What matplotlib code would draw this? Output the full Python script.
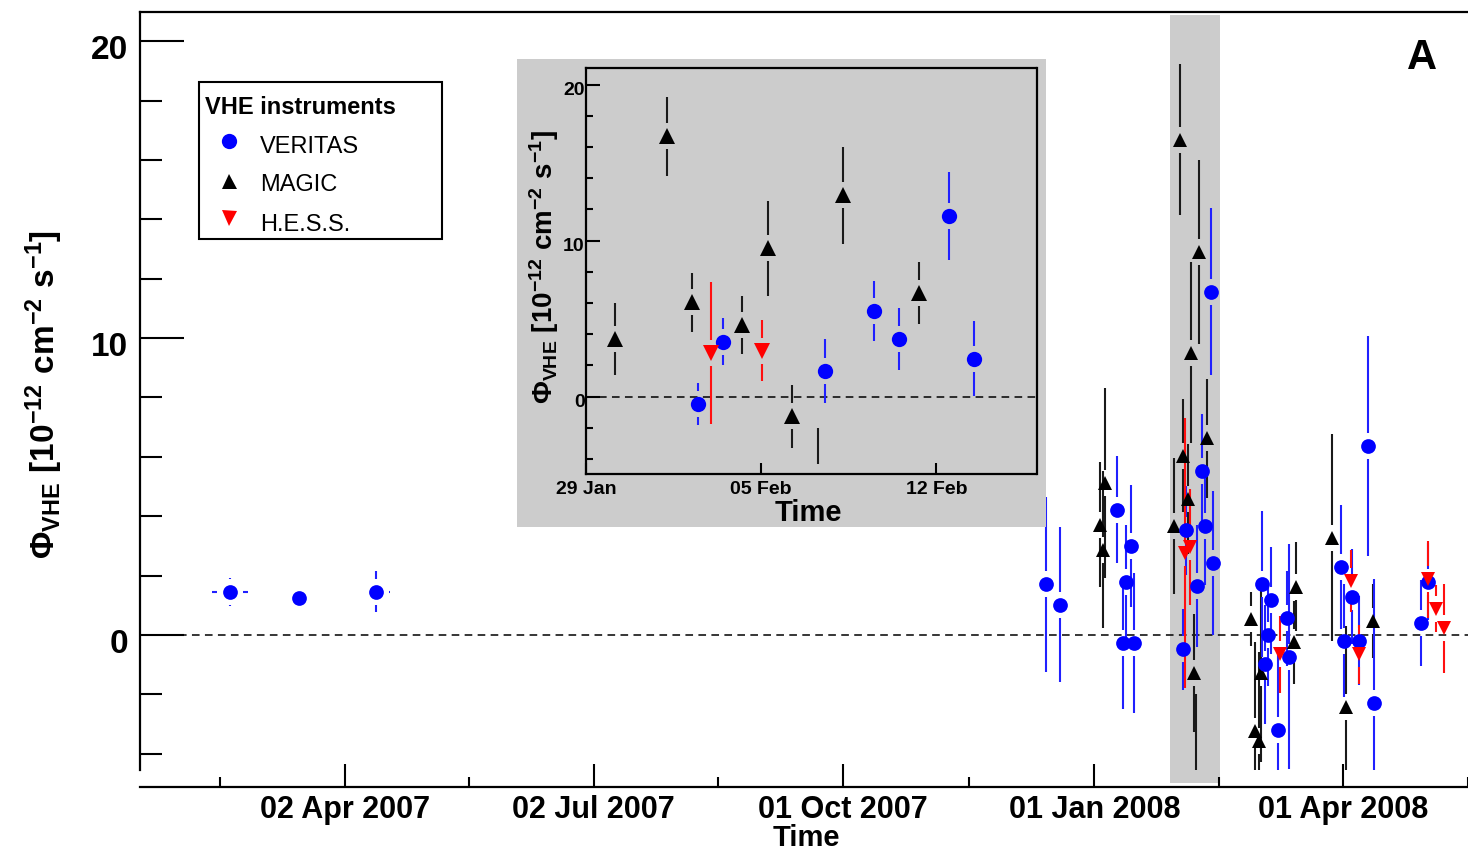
import numpy as np
import matplotlib
matplotlib.use('Agg')
import matplotlib.pyplot as plt
import matplotlib.dates as mdates
import matplotlib.transforms as mtrans
from matplotlib.patches import Rectangle
from matplotlib.lines import Line2D
import pandas as pd

# ---------------- data ----------------
veritas_dates = ['2007-02-19 01:00', '2007-03-16 08:00', '2007-04-13 10:00',
                 '2007-12-14 10:00', '2007-12-19 12:00',
                 '2008-01-09 10:00', '2008-01-11 07:00', '2008-01-12 14:00',
                 '2008-01-14 10:00', '2008-01-15 12:00',
                 '2008-02-02 11:00', '2008-02-03 11:30', '2008-02-07 13:30',
                 '2008-02-09 12:00', '2008-02-10 12:00', '2008-02-12 12:00',
                 '2008-02-13 12:00',
                 '2008-03-02 07:00', '2008-03-03 12:00', '2008-03-04 12:00',
                 '2008-03-05 17:00', '2008-03-08 07:00', '2008-03-11 10:00',
                 '2008-03-12 07:00', '2008-03-31 07:00', '2008-04-01 07:00',
                 '2008-04-04 02:00', '2008-04-06 19:00', '2008-04-10 05:00',
                 '2008-04-12 07:00', '2008-04-29 07:00', '2008-05-02 00:00']
veritas_flux = [1.46, 1.24, 1.46,
                1.70, 1.02,
                4.22, -0.28, 1.80, 3.00, -0.28,
                -0.49, 3.52, 1.64, 5.51, 3.67, 11.57, 2.43,
                1.71, -0.99, -0.01, 1.17, -3.20, 0.56, -0.73,
                2.29, -0.20, 1.29, -0.20, 6.36, -2.30, 0.39, 1.80]
veritas_err = [0.47, 0.30, 0.70,
               2.95, 2.60,
               1.80, 2.20, 1.90, 2.05, 2.35,
               1.35, 1.50, 2.05, 1.93, 2.00, 2.80, 2.42,
               2.45, 2.00, 1.70, 1.80, 2.80, 1.60, 3.80,
               2.10, 1.90, 1.60, 1.50, 3.70, 4.20, 1.45, 1.30]
veritas_xerr_days = [6.5, 2.0, 4.9] + [0.0] * 29

magic_dates = ['2008-01-03 02:00', '2008-01-04 00:00', '2008-01-04 19:00',
               '2008-01-30 04:00', '2008-02-01 06:00', '2008-02-02 06:00',
               '2008-02-04 06:00', '2008-02-05 06:30', '2008-02-06 06:00',
               '2008-02-07 06:00', '2008-02-08 06:00', '2008-02-11 07:00',
               '2008-02-27 05:00', '2008-02-28 19:00', '2008-03-01 05:00',
               '2008-03-01 19:00', '2008-03-13 22:00', '2008-03-14 17:00',
               '2008-03-27 17:00', '2008-04-01 22:00', '2008-04-12 00:00']
magic_flux = [3.71, 2.87, 5.12,
              3.67, 16.69, 6.04, 4.59, 9.50, -1.28, -5.15, 12.91, 6.62,
              0.53, -3.23, -3.57, -1.27, -0.24, 1.62, 3.28, -2.44, 0.47]
magic_err = [2.10, 2.65, 3.20,
             2.30, 2.55, 1.90, 1.85, 3.05, 2.00, 3.15, 3.10, 2.00,
             0.90, 3.00, 3.00, 3.00, 1.40, 1.50, 3.50, 2.75, 1.25]

hess_dates = ['2008-02-03 00:00', '2008-02-05 01:00', '2008-03-08 22:00',
              '2008-04-03 17:00', '2008-04-06 19:00', '2008-05-02 00:00',
              '2008-05-04 22:00', '2008-05-07 17:00']
hess_flux = [2.77, 2.95, -0.65, 1.82, -0.65, 1.87, 0.89, 0.22]
hess_err = [4.55, 1.95, 1.30, 1.05, 1.00, 1.30, 0.80, 1.50]

main_ticks = ['2007-04-02', '2007-07-02', '2007-10-01', '2008-01-01', '2008-04-01']
main_ticklabels = ['02 Apr 2007', '02 Jul 2007', '01 Oct 2007', '01 Jan 2008', '01 Apr 2008']
inset_ticks = ['2008-01-29', '2008-02-05', '2008-02-12']
inset_ticklabels = ['29 Jan', '05 Feb', '12 Feb']
band_range = ['2008-01-28 19:00', '2008-02-15 19:00']
legend_labels = ['VERITAS', 'MAGIC', 'H.E.S.S.']

# ---------------- style ----------------
plt.rcParams['font.family'] = ['Liberation Sans', 'DejaVu Sans']
plt.rcParams['mathtext.fontset'] = 'custom'
plt.rcParams['mathtext.rm'] = 'Liberation Sans:bold'
plt.rcParams['mathtext.it'] = 'Liberation Sans:bold'
plt.rcParams['mathtext.bf'] = 'Liberation Sans:bold'

W, H = 1468, 858
fig = plt.figure(figsize=(W / 100, H / 100), dpi=100)


def fx(px):
    return px / W


def fy(py):
    return 1 - py / H


def todn(lst):
    return mdates.date2num(pd.to_datetime(lst).to_pydatetime())


vx, vy, ve = todn(veritas_dates), np.array(veritas_flux), np.array(veritas_err)
vxe = np.array(veritas_xerr_days)
mx, my, me = todn(magic_dates), np.array(magic_flux), np.array(magic_err)
hx, hy, he = todn(hess_dates), np.array(hess_flux), np.array(hess_err)

BLUE, BLACK, RED = '#0000ff', '#000000', '#ff0000'
ERRC = {BLUE: '#2020ff', BLACK: '#1a1a1a', RED: '#ff1010'}


def draw_series(ax, x, y, yerr, xerr, marker, color, ms, gap_px=13, lw=1.5):
    pos = ax.get_position()
    hpx, wpx = pos.height * H, pos.width * W
    y0, y1 = ax.get_ylim()
    x0, x1 = ax.get_xlim()
    gy = gap_px * (y1 - y0) / hpx
    gx = gap_px * (x1 - x0) / wpx
    m = yerr > gy
    ec = ERRC[color]
    ax.vlines(x[m], y[m] + gy, y[m] + yerr[m], colors=ec, lw=lw, zorder=3)
    ax.vlines(x[m], y[m] - yerr[m], y[m] - gy, colors=ec, lw=lw, zorder=3)
    if xerr is not None:
        k = xerr > gx
        ax.hlines(y[k], x[k] + gx, x[k] + xerr[k], colors=ec, lw=lw, zorder=3)
        ax.hlines(y[k], x[k] - xerr[k], x[k] - gx, colors=ec, lw=lw, zorder=3)
    inside = (y >= y0) & (y <= y1)
    ax.plot(x[inside], y[inside], ls='none', marker=marker, color=color,
            ms=ms, mew=0, zorder=4)


# ---------------- main axes ----------------
ax = fig.add_axes([fx(139.5), fy(770), fx(1468) - fx(139.5), fy(11.6) - fy(770)])
ax.set_xlim(todn(['2007-01-16 22:00'])[0], todn(['2008-05-13 10:00'])[0])
ax.set_ylim(-4.55, 21)
ax.spines['right'].set_visible(False)
for s in ['left', 'top', 'bottom']:
    ax.spines[s].set_linewidth(1.6)
ax.spines['bottom'].set_position(('outward', 12))

mt = todn(main_ticks)
ax.set_xticks(mt)
ax.set_xticklabels(main_ticklabels, fontsize=22, fontweight='bold')
minor = np.concatenate([[mt[0] - 45.6], (mt[:-1] + mt[1:]) / 2, [mt[-1] + 45.6]])
ax.set_xticks(minor, minor=True)
ax.tick_params(axis='x', which='major', direction='in', length=16.5, width=1.5, pad=6,
               top=False)
ax.tick_params(axis='x', which='minor', direction='in', length=7.2, width=1.5, top=False)
ax.set_yticks([0, 10, 20])
ax.set_yticklabels(['0', '10', '20'], fontsize=24, fontweight='bold')
ax.set_yticks(np.arange(-4, 21, 2), minor=True)
ax.tick_params(axis='y', which='major', direction='in', length=31.7, width=1.5, pad=8,
               right=False)
ax.tick_params(axis='y', which='minor', direction='in', length=15.6, width=1.5, right=False)
off = mtrans.ScaledTranslation(0, -6 / 100, fig.dpi_scale_trans)
for lab in ax.get_yticklabels():
    lab.set_transform(lab.get_transform() + off)

ax.axhline(0, color='black', lw=1.1, ls=(0, (5, 3.5)), zorder=2)

bx = todn(band_range)
ax.add_patch(Rectangle((bx[0], -0.017), bx[1] - bx[0], 1.0125,
                       transform=mtrans.blended_transform_factory(ax.transData, ax.transAxes),
                       facecolor='#cccccc', edgecolor='none', clip_on=False, zorder=0.5))

draw_series(ax, mx, my, me, None, '^', BLACK, 10.3)
draw_series(ax, vx, vy, ve, vxe, 'o', BLUE, 10.6)
draw_series(ax, hx, hy, he, None, 'v', RED, 10.5)

ylab = r'$\Phi_{\mathrm{VHE}}\ \mathrm{[10^{-12}\ cm^{-2}\ s^{-1}]}$'
ax.set_ylabel(ylab, fontsize=24, rotation=90, ha='center', va='center')
ax.yaxis.set_label_coords((44 - 139.5) / 1328.5, (770 - 394) / 758.4)
ax.set_xlabel('Time', fontsize=21, fontweight='bold', va='center')
ax.xaxis.set_label_coords((806 - 139.5) / 1328.5, (770 - 838) / 758.4)

fig.text(fx(1422), fy(58), 'A', fontsize=30, fontweight='bold', ha='center', va='center')

# ---------------- legend ----------------
fig.add_artist(Rectangle((fx(198.7), fy(238.7)), fx(441.7) - fx(198.7), (238.7 - 81.7) / H,
                         transform=fig.transFigure, facecolor='white', edgecolor='black',
                         lw=1.5, zorder=5))
fig.text(fx(205.3), fy(107.7), 'VHE instruments', fontsize=17, fontweight='bold',
         ha='left', va='center', zorder=6)
leg_markers = [('o', BLUE, 11), ('^', BLACK, 10.8), ('v', RED, 10.8)]
leg_my = [141, 181, 218.3]
leg_ty = [146.7, 185, 225]
for (mk, c, ms), my_, ty_, lab in zip(leg_markers, leg_my, leg_ty, legend_labels):
    fig.add_artist(Line2D([fx(229.3)], [fy(my_)], transform=fig.transFigure, ls='none',
                          marker=mk, color=c, ms=ms, mew=0, zorder=6))
    fig.text(fx(260), fy(ty_), lab, fontsize=17, ha='left', va='center', zorder=6)

# ---------------- inset ----------------
fig.add_artist(Rectangle((fx(517), fy(527)), fx(1046) - fx(517), (527 - 59) / H,
                         transform=fig.transFigure, facecolor='#cccccc',
                         edgecolor='none', zorder=5))
ax2 = fig.add_axes([fx(586), fy(474.5), fx(1036.5) - fx(586), fy(67.5) - fy(474.5)],
                   zorder=6)
ax2.set_facecolor('#cccccc')
ax2.set_xlim(todn(['2008-01-29'])[0], todn(['2008-02-16'])[0])
ax2.set_ylim(-5, 21.1)
for s in ax2.spines.values():
    s.set_linewidth(1.6)
it = todn(inset_ticks)
ax2.set_xticks(it)
ax2.set_xticklabels(inset_ticklabels, fontsize=14, fontweight='bold')
ax2.tick_params(axis='x', direction='in', length=7.7, width=1.5, pad=5, top=False)
ax2.set_yticks([0, 10, 20])
ax2.set_yticklabels(['0', '10', '20'], fontsize=14, fontweight='bold')
ax2.set_yticks(np.arange(-4, 21, 2), minor=True)
ax2.tick_params(axis='y', which='major', direction='in', length=10.4, width=1.5, pad=1,
                right=False)
ax2.tick_params(axis='y', which='minor', direction='in', length=5, width=1.5, right=False)
off2 = mtrans.ScaledTranslation(0, -4 / 100, fig.dpi_scale_trans)
for lab in ax2.get_yticklabels():
    lab.set_transform(lab.get_transform() + off2)
ax2.axhline(0, color='black', lw=1.1, ls=(0, (5, 3.5)), zorder=2)

draw_series(ax2, mx, my, me, None, '^', BLACK, 12)
draw_series(ax2, vx, vy, ve, None, 'o', BLUE, 11)
draw_series(ax2, hx, hy, he, None, 'v', RED, 12)

ax2.set_ylabel(ylab, fontsize=20, rotation=90, ha='center', va='center')
ax2.yaxis.set_label_coords((544 - 586) / 450.5, (474.5 - 267) / 407)
ax2.set_xlabel('Time', fontsize=21, fontweight='bold', va='center')
ax2.xaxis.set_label_coords((808.6 - 586) / 450.5, (474.5 - 513) / 407)

fig.savefig('out.png', dpi=100)
